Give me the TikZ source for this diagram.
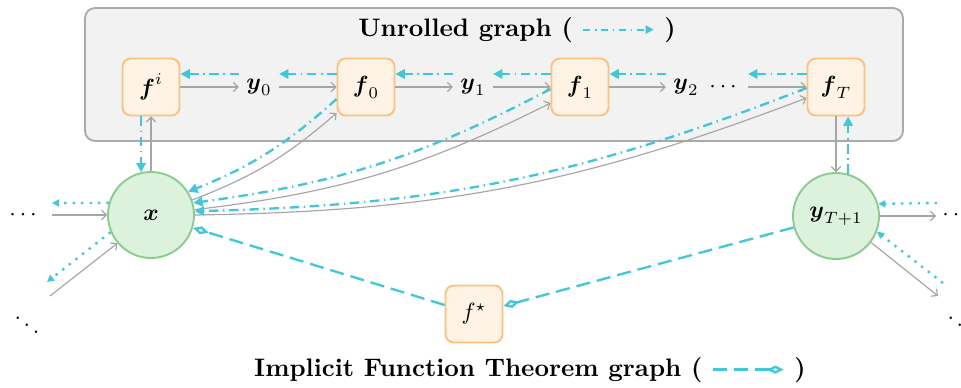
\documentclass[tikz,border=0pt]{standalone}
\usepackage{amsmath,amssymb}
\usetikzlibrary{arrows.meta,calc}
\definecolor{cy}{HTML}{40C8D8}
\definecolor{obord}{HTML}{FFC07A}
\definecolor{ofill}{HTML}{FFF3E6}
\definecolor{gbord}{HTML}{88CC8E}
\definecolor{gfill}{HTML}{DCF2DC}
\definecolor{boxfill}{HTML}{F2F2F2}
\definecolor{boxbord}{HTML}{AAAAAA}
\definecolor{garr}{HTML}{A6A6A6}
\tikzset{
  fbox/.style={draw=obord, fill=ofill, line width=0.8pt, rounded corners=3.5pt, minimum size=0.855cm, inner sep=0pt},
  vcirc/.style={circle, draw=gbord, fill=gfill, line width=0.8pt, minimum size=1.29cm, inner sep=0pt},
  lbl/.style={inner sep=3pt},
  ttl/.style={font=\fontsize{10.8}{13}\selectfont\bfseries},
  fw/.style={draw=garr, line width=0.5pt, -{Straight Barb[length=2pt,width=4pt]}},
  bw/.style={draw=cy, line width=1pt, dash pattern=on 4pt off 2pt on 0.6pt off 2pt, -{Triangle[length=4pt,width=4pt]}},
  bwleg/.style={draw=cy, line width=0.8pt, dash pattern=on 3pt off 2pt on 0.6pt off 2pt, -{Triangle[length=3.5pt,width=3.5pt]}},
  dt/.style={draw=cy, line width=1pt, dash pattern=on 1pt off 2.6pt, -{Triangle[length=3pt,width=3pt]}},
  ift/.style={draw=cy, line width=1pt, dash pattern=on 6pt off 3pt, -{Diamond[open,length=7pt,width=3.5pt]}}
}
\begin{document}
\begin{tikzpicture}[x=0.015cm, y=-0.015cm]
\useasboundingbox (0,0) rectangle (961,388);
% unrolled graph frame
\draw[draw=boxbord, fill=boxfill, line width=0.8pt, rounded corners=4.3pt] (85,8) rectangle (903,141);
\node[ttl] (t1) at (517,30) {Unrolled graph ( \tikz[baseline=-0.6ex,x=1cm,y=1cm]\draw[bwleg] (0pt,0pt) -- (30pt,0pt); )};
\node[ttl] (t2) at (530,370) {Implicit Function Theorem graph ( \tikz[baseline=-0.6ex,x=1cm,y=1cm]\draw[ift] (0pt,0pt) -- (30pt,0pt); )};
% nodes
\node[fbox] (fi) at (151,87) {$\boldsymbol{f}^{i}$};
\node[lbl] (y0) at (259,87) {$\boldsymbol{y}_0$};
\node[fbox] (f0) at (366,87) {$\boldsymbol{f}_0$};
\node[lbl] (y1) at (473,87) {$\boldsymbol{y}_1$};
\node[fbox] (f1) at (580,87) {$\boldsymbol{f}_1$};
\node[lbl] (y2) at (686,87) {$\boldsymbol{y}_2$};
\node[lbl] (dd) at (725,87) {$\cdots$};
\node[fbox] (fT) at (836,87) {$\boldsymbol{f}_T$};
\node[vcirc] (xn) at (151,215) {$\boldsymbol{x}$};
\node[vcirc] (yT) at (836,216) {$\boldsymbol{y}_{T+1}$};
\node[fbox] (fs) at (474,314) {$f^{\star}$};
\node (ldots) at (25,215) {$\cdots$};
\node (lddots) at (27,318) {$\ddots$};
\node (rdots) at (958,215) {$\cdots$};
\node (rddots) at (960,318) {$\ddots$};
\coordinate (la) at (52,215);
\coordinate (lb) at (52,203);
\coordinate (lc) at (50,296);
\coordinate (ld) at (47,282);
\coordinate (ra) at (936,216);
\coordinate (rb) at (937,203);
\coordinate (rc) at (938,296);
\coordinate (rd) at (943,283);
% forward (gray)
\draw[fw] (fi) -- (y0);
\draw[fw] (y0) -- (f0);
\draw[fw] (f0) -- (y1);
\draw[fw] (y1) -- (f1);
\draw[fw] (f1) -- (y2);
\draw[fw] (dd) -- (fT);
\draw[fw] (xn) -- (fi);
\draw[fw] (fT) -- (yT);
\draw[fw] (xn.20) to[bend right=10] ($(f0.west)+(0,26)$);
\draw[fw] (xn.7) to[bend right=10] ($(f1.west)+(0,16)$);
\draw[fw] (xn.east) to[bend right=10] ($(fT.west)+(0,11)$);
\draw[fw] (la) -- (xn.west);
\draw[fw] (lc) -- (xn.220);
\draw[fw] (yT.east) -- (ra);
\draw[fw] (yT.-37) -- (rc);
% backward (cyan dash-dot)
\draw[bw] ($(y0.west)+(0,-13)$) -- ($(fi.east)+(0,-13)$);
\draw[bw] ($(f0.west)+(0,-13)$) -- ($(y0.east)+(0,-13)$);
\draw[bw] ($(y1.west)+(0,-13)$) -- ($(f0.east)+(0,-13)$);
\draw[bw] ($(f1.west)+(0,-13)$) -- ($(y1.east)+(0,-13)$);
\draw[bw] ($(y2.west)+(0,-13)$) -- ($(f1.east)+(0,-13)$);
\draw[bw] ($(fT.west)+(0,-13)$) -- ($(dd.east)+(0,-13)$);
\draw[bw] (xn.103 |- fi.south) -- (xn.103);
\draw[bw] (yT.74) -- (yT.74 |- fT.south);
\draw[bw] ($(f0.west)+(0,12)$) to[bend left=10] (xn.32);
\draw[bw] ($(f1.west)+(0,2)$) to[bend left=10] (xn.16);
\draw[bw] ($(fT.west)+(0,1)$) to[bend left=10] (xn.5);
% dotted
\draw[dt] (xn.164) -- (lb);
\draw[dt] (xn.203) -- (ld);
\draw[dt] (rb) -- (yT.16);
\draw[dt] (rd) -- (yT.-21);
% implicit function theorem
\draw[ift] (fs) -- (xn);
\draw[ift] (yT) -- (fs);
\end{tikzpicture}
\end{document}
